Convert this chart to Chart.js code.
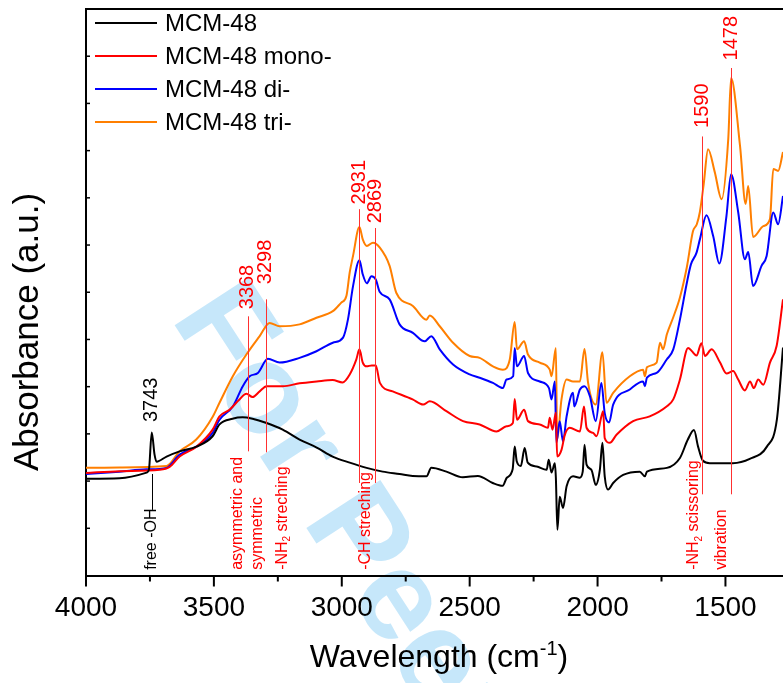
<!DOCTYPE html>
<html>
<head>
<meta charset="utf-8">
<title>FTIR spectra of MCM-48 samples</title>
<script src="https://cdn.jsdelivr.net/npm/chart.js@4.4.0/dist/chart.umd.min.js"></script>
<style>
  html, body { margin: 0; padding: 0; background: #fff; }
  #wrap { width: 783px; height: 683px; }
</style>
</head>
<body>
<div id="wrap"><canvas id="ftir" width="783" height="683"></canvas></div>
<script>
// ===================== SPECTRA DATA =====================
// [wavenumber (cm-1), absorbance (a.u., stacked)]
const mcm48 = [
  [4000, 2.05], [3869, 2.06], [3763, 2.18], [3754, 2.24], [3743, 3.03], [3732, 2.56], [3724, 2.41],
  [3685, 2.52], [3634, 2.63], [3568, 2.73], [3505, 2.95], [3478, 3.20], [3427, 3.32], [3388, 3.35],
  [3349, 3.32], [3294, 3.23], [3231, 3.09], [3165, 2.88], [3098, 2.71], [3036, 2.52], [2969, 2.39],
  [2903, 2.28], [2840, 2.20], [2774, 2.15], [2723, 2.11], [2669, 2.10], [2650, 2.28], [2591, 2.20],
  [2527, 2.08], [2468, 2.11], [2410, 1.96], [2371, 1.90], [2355, 2.07], [2332, 2.25], [2324, 2.73],
  [2316, 2.42], [2300, 2.32], [2285, 2.70], [2273, 2.39], [2238, 2.31], [2199, 2.24], [2191, 2.45],
  [2180, 2.18], [2167, 2.38], [2163, 2.07], [2157, 0.97], [2148, 1.67], [2135, 1.43], [2121, 1.89],
  [2096, 2.10], [2070, 2.07], [2058, 2.20], [2051, 2.77], [2043, 2.35], [2024, 2.24], [2007, 1.92],
  [1991, 2.24], [1981, 2.81], [1972, 2.10], [1959, 1.82], [1939, 1.96], [1900, 2.13], [1835, 2.20],
  [1815, 2.10], [1807, 2.20], [1729, 2.28], [1678, 2.49], [1647, 2.88], [1623, 3.08], [1607, 2.73],
  [1588, 2.43], [1561, 2.38], [1471, 2.38], [1405, 2.47], [1338, 2.73], [1299, 3.30], [1275, 4.83]
];

const mcm48Mono = [
  [4000, 2.17], [3869, 2.21], [3712, 2.24], [3673, 2.30], [3634, 2.52], [3568, 2.73], [3505, 3.09],
  [3478, 3.37], [3439, 3.51], [3400, 3.73], [3373, 3.85], [3349, 3.78], [3321, 3.90], [3294, 4.01],
  [3231, 4.01], [3165, 4.07], [3098, 4.11], [3036, 4.14], [2997, 4.09], [2969, 4.26], [2943, 4.58],
  [2931, 4.79], [2918, 4.51], [2903, 4.43], [2883, 4.45], [2867, 4.45], [2851, 4.08], [2801, 3.90],
  [2723, 3.73], [2682, 3.62], [2656, 3.69], [2591, 3.48], [2526, 3.27], [2461, 3.20], [2395, 3.05],
  [2356, 3.16], [2331, 3.23], [2324, 3.74], [2315, 3.30], [2287, 3.51], [2272, 3.27], [2226, 3.20],
  [2194, 3.13], [2187, 3.34], [2176, 3.09], [2163, 3.45], [2158, 2.52], [2141, 2.66], [2128, 2.98],
  [2109, 3.13], [2069, 3.05], [2053, 3.58], [2043, 3.13], [2017, 3.02], [2004, 2.95], [1985, 3.37],
  [1978, 3.48], [1972, 2.91], [1952, 2.81], [1926, 2.98], [1861, 3.27], [1796, 3.37], [1730, 3.58],
  [1704, 3.73], [1678, 4.15], [1646, 4.82], [1631, 4.75], [1613, 4.66], [1594, 4.92], [1580, 4.65],
  [1554, 4.79], [1521, 4.51], [1496, 4.28], [1470, 4.33], [1450, 4.15], [1424, 3.92], [1404, 4.11],
  [1389, 3.97], [1372, 4.15], [1352, 4.04], [1326, 4.51], [1300, 4.86], [1275, 5.85]
];

const mcm48Di = [
  [4000, 2.15], [3869, 2.20], [3763, 2.25], [3685, 2.28], [3634, 2.56], [3568, 2.73], [3505, 3.02],
  [3478, 3.30], [3426, 3.58], [3387, 4.01], [3360, 4.22], [3328, 4.29], [3289, 4.59], [3243, 4.51],
  [3165, 4.61], [3099, 4.75], [3035, 4.93], [2995, 5.04], [2976, 5.42], [2956, 6.13], [2931, 6.68],
  [2918, 6.38], [2902, 6.19], [2884, 6.34], [2867, 6.27], [2852, 6.01], [2813, 5.85], [2774, 5.32],
  [2722, 5.14], [2676, 4.96], [2650, 5.07], [2617, 4.79], [2565, 4.47], [2500, 4.26], [2461, 4.19],
  [2409, 4.08], [2370, 3.97], [2356, 4.15], [2330, 4.22], [2324, 4.82], [2315, 4.43], [2287, 4.65],
  [2272, 4.29], [2226, 4.11], [2190, 3.97], [2180, 3.73], [2167, 4.11], [2161, 2.81], [2148, 3.27],
  [2135, 2.84], [2121, 3.37], [2096, 3.87], [2091, 3.58], [2069, 3.94], [2051, 4.01], [2030, 3.80],
  [2007, 3.27], [1985, 4.08], [1972, 3.44], [1955, 3.24], [1939, 3.62], [1874, 3.94], [1822, 4.11],
  [1815, 4.01], [1807, 4.19], [1769, 4.29], [1729, 4.58], [1704, 4.79], [1678, 5.42], [1652, 6.17],
  [1635, 6.59], [1613, 6.84], [1600, 7.12], [1574, 7.63], [1548, 7.19], [1524, 6.61], [1496, 7.62],
  [1478, 8.50], [1450, 7.69], [1424, 6.70], [1411, 6.85], [1392, 6.13], [1359, 6.56], [1339, 6.77],
  [1313, 7.69], [1294, 7.44], [1275, 8.04]
];

const mcm48Tri = [
  [4000, 2.28], [3869, 2.29], [3685, 2.32], [3634, 2.63], [3569, 2.88], [3504, 3.37], [3478, 3.66],
  [3426, 4.22], [3373, 4.68], [3321, 5.07], [3282, 5.35], [3243, 5.28], [3165, 5.32], [3099, 5.46],
  [3035, 5.60], [3002, 5.78], [2982, 5.92], [2969, 6.42], [2956, 6.77], [2931, 7.38], [2918, 7.12],
  [2902, 6.98], [2878, 7.05], [2852, 6.95], [2813, 6.56], [2787, 5.99], [2722, 5.71], [2669, 5.42],
  [2656, 5.51], [2617, 5.28], [2565, 4.93], [2500, 4.65], [2461, 4.61], [2409, 4.43], [2370, 4.36],
  [2343, 4.58], [2324, 5.37], [2315, 4.79], [2287, 4.96], [2272, 4.68], [2226, 4.51], [2187, 4.36],
  [2180, 4.22], [2163, 4.82], [2158, 2.88], [2141, 3.73], [2121, 4.15], [2096, 4.11], [2069, 4.11],
  [2051, 4.80], [2037, 4.08], [2007, 3.62], [1981, 4.73], [1965, 3.66], [1939, 3.87], [1874, 4.22],
  [1822, 4.36], [1815, 4.22], [1807, 4.41], [1769, 4.51], [1756, 4.93], [1744, 4.79], [1729, 5.11],
  [1704, 5.47], [1678, 5.89], [1651, 6.53], [1627, 7.29], [1612, 7.44], [1600, 7.70], [1585, 8.29],
  [1568, 9.03], [1542, 8.55], [1515, 7.97], [1489, 9.25], [1478, 10.54], [1443, 9.10], [1421, 7.87],
  [1411, 8.25], [1392, 7.17], [1352, 7.40], [1326, 7.55], [1313, 8.61], [1294, 8.57], [1275, 8.97]
];

const seriesNames = ['MCM-48', 'MCM-48 mono-', 'MCM-48 di-', 'MCM-48 tri-'];
const seriesData = [mcm48, mcm48Mono, mcm48Di, mcm48Tri];
const seriesColors = ['#000000', '#ff0000', '#0000ff', '#ff7f00'];

// axis ranges and tick positions (labels on every other tick)
const waveMin = 1275, waveMax = 4000;
const absMin = 0, absMax = 12;
const waveTicks = [4000, 3750, 3500, 3250, 3000, 2750, 2500, 2250, 2000, 1750, 1500];
const absTicks = [0, 1, 2, 3, 4, 5, 6, 7, 8, 9, 10, 11, 12];

// peak positions: [wavenumber, absorbance where the label starts, colour]
const peakLabels = [
  [3743, 3.25, '#000'],
  [3368, 5.64, '#ff0000'],
  [3298, 6.17, '#ff0000'],
  [2931, 7.86, '#ff0000'],
  [2869, 7.46, '#ff0000'],
  [1590, 9.48, '#ff0000'],
  [1478, 10.91, '#ff0000']
];

// guide lines: [wavenumber, top absorbance, bottom absorbance, colour]
const guideLines = [
  [3743, 2.15, 1.39, '#000'],
  [3368, 5.49, 2.63, '#ff3030'],
  [3298, 5.85, 2.61, '#ff3030'],
  [2931, 7.76, 1.96, '#ff3030'],
  [2869, 7.36, 1.96, '#ff3030'],
  [1590, 9.30, 1.72, '#ff3030'],
  [1478, 10.75, 1.72, '#ff3030']
];

// band assignments written upward from the baseline: [wavenumber, text runs, colour]
const bandNotes = [
  [3743, [['free -OH', '']], '#000'],
  [3409, [['asymmetric and', '']], '#ff0000'],
  [3329, [['symmetric', '']], '#ff0000'],
  [3233, [['-NH', ''], ['2', 'sub'], [' streching', '']], '#ff0000'],
  [2907, [['-CH streching', '']], '#ff0000'],
  [1623, [['-NH', ''], ['2', 'sub'], [' scissoring', '']], '#ff0000'],
  [1516, [['vibration', '']], '#ff0000']
];
const noteBase = 0.12;

const FONT = "'Liberation Sans', Arial, Helvetica, sans-serif";

// ===================== DRAW HELPERS =====================
function drawRuns(ctx, runs, size) {
  let x = 0;
  runs.forEach(([txt, kind]) => {
    if (kind === 'sub') {
      ctx.font = Math.round(size * 0.62) + 'px ' + FONT;
      ctx.fillText(txt, x, size * 0.3);
    } else if (kind === 'sup') {
      ctx.font = Math.round(size * 0.62) + 'px ' + FONT;
      ctx.fillText(txt, x, -size * 0.38);
    } else {
      ctx.font = size + 'px ' + FONT;
      ctx.fillText(txt, x, 0);
    }
    x += ctx.measureText(txt).width;
  });
  return x;
}

function runsWidth(ctx, runs, size) {
  let w = 0;
  runs.forEach(([txt, kind]) => {
    ctx.font = (kind ? Math.round(size * 0.62) : size) + 'px ' + FONT;
    w += ctx.measureText(txt).width;
  });
  return w;
}

// ===================== PLUGINS =====================
const watermark = {
  id: 'watermark',
  beforeDraw(chart) {
    const ctx = chart.ctx;
    ctx.save();
    ctx.translate(170, 318);
    ctx.rotate(57 * Math.PI / 180);
    ctx.fillStyle = '#c6e7fa';
    ctx.font = 'bold 128px ' + FONT;
    ctx.textBaseline = 'alphabetic';
    ctx.fillText('For Peer Review', 0, 0);
    ctx.restore();
  }
};

const annotations = {
  id: 'annotations',
  afterDatasetsDraw(chart) {
    const ctx = chart.ctx;
    const xs = chart.scales.x, ys = chart.scales.y;
    ctx.save();

    guideLines.forEach(([w, top, bottom, color]) => {
      const px = Math.round(xs.getPixelForValue(w)) + 0.5;
      ctx.strokeStyle = color;
      ctx.lineWidth = 1;
      ctx.beginPath();
      ctx.moveTo(px, ys.getPixelForValue(top));
      ctx.lineTo(px, ys.getPixelForValue(bottom));
      ctx.stroke();
    });

    ctx.textAlign = 'left';
    ctx.textBaseline = 'middle';

    peakLabels.forEach(([w, base, color]) => {
      ctx.save();
      ctx.translate(xs.getPixelForValue(w), ys.getPixelForValue(base));
      ctx.rotate(-Math.PI / 2);
      ctx.fillStyle = color;
      drawRuns(ctx, [[String(w), '']], 20);
      ctx.restore();
    });

    bandNotes.forEach(([w, runs, color]) => {
      ctx.save();
      ctx.translate(xs.getPixelForValue(w), ys.getPixelForValue(noteBase));
      ctx.rotate(-Math.PI / 2);
      ctx.fillStyle = color;
      drawRuns(ctx, runs, 16);
      ctx.restore();
    });

    ctx.restore();
  }
};

const frame = {
  id: 'frame',
  afterDraw(chart) {
    const ctx = chart.ctx;
    const {left, right, top, bottom} = chart.chartArea;
    const xs = chart.scales.x, ys = chart.scales.y;
    ctx.save();
    ctx.strokeStyle = '#000';

    // top edge of the plot box
    ctx.lineWidth = 2;
    ctx.beginPath();
    ctx.moveTo(left - 1, top);
    ctx.lineTo(right, top);
    ctx.stroke();

    // x ticks: long at labelled values, short in between
    ctx.lineWidth = 2;
    xs.ticks.forEach(t => {
      const px = xs.getPixelForValue(t.value);
      const len = t.value % 500 === 0 ? 11 : 6;
      ctx.beginPath();
      ctx.moveTo(px, bottom);
      ctx.lineTo(px, bottom + len);
      ctx.stroke();
    });

    // short inward y ticks
    ctx.lineWidth = 1.5;
    ys.ticks.forEach(t => {
      if (t.value <= absMin || t.value >= absMax) return;
      const py = ys.getPixelForValue(t.value);
      ctx.beginPath();
      ctx.moveTo(left, py);
      ctx.lineTo(left + 4, py);
      ctx.stroke();
    });

    // legend
    ctx.textAlign = 'left';
    ctx.textBaseline = 'middle';
    ctx.font = '24px ' + FONT;
    chart.data.datasets.forEach((ds, i) => {
      const y = 23 + i * 33;
      ctx.strokeStyle = ds.borderColor;
      ctx.lineWidth = 2;
      ctx.beginPath();
      ctx.moveTo(95, y);
      ctx.lineTo(157, y);
      ctx.stroke();
      ctx.fillStyle = '#000';
      ctx.fillText(ds.label, 165, y + 1);
    });

    // axis titles
    ctx.fillStyle = '#000';
    ctx.textBaseline = 'alphabetic';
    const xTitle = [['Wavelength (cm', ''], ['-1', 'sup'], [')', '']];
    const tw = runsWidth(ctx, xTitle, 32);
    ctx.save();
    ctx.translate(439 - tw / 2, 667);
    drawRuns(ctx, xTitle, 32);
    ctx.restore();

    ctx.save();
    ctx.translate(28, 332);
    ctx.rotate(-Math.PI / 2);
    ctx.textAlign = 'center';
    ctx.textBaseline = 'middle';
    ctx.font = '35px ' + FONT;
    ctx.fillText('Absorbance (a.u.)', 0, 0);
    ctx.restore();

    ctx.restore();
  }
};

// ===================== CHART =====================
const chart = new Chart(document.getElementById('ftir'), {
  type: 'line',
  data: {
    datasets: seriesNames.map((name, i) => ({
      label: name,
      data: seriesData[i].map(p => ({x: p[0], y: p[1]})),
      borderColor: seriesColors[i],
      backgroundColor: seriesColors[i],
      borderWidth: 2,
      pointRadius: 0,
      fill: false,
      cubicInterpolationMode: 'monotone'
    }))
  },
  options: {
    responsive: false,
    animation: false,
    devicePixelRatio: 1,
    layout: { padding: { top: 9, right: 0, bottom: 0, left: 0 } },
    plugins: {
      legend: { display: false },
      tooltip: { enabled: false }
    },
    scales: {
      x: {
        type: 'linear',
        reverse: true,
        min: waveMin,
        max: waveMax,
        grid: { display: false, drawTicks: false },
        border: { display: true, color: '#000', width: 2 },
        ticks: {
          autoSkip: false,
          maxRotation: 0,
          padding: 16,
          color: '#000',
          font: { family: FONT, size: 28 },
          callback: v => (v % 500 === 0 ? String(v) : '')
        },
        afterBuildTicks: s => { s.ticks = waveTicks.map(v => ({value: v})); },
        afterFit: s => { s.height = 107.5; s.paddingLeft = 0; s.paddingRight = 0; }
      },
      y: {
        min: absMin,
        max: absMax,
        grid: { display: false, drawTicks: false },
        border: { display: true, color: '#000', width: 2 },
        ticks: { display: false },
        afterBuildTicks: s => { s.ticks = absTicks.map(v => ({value: v})); },
        afterFit: s => { s.width = 86; }
      }
    }
  },
  plugins: [watermark, annotations, frame]
});
</script>
</body>
</html>
